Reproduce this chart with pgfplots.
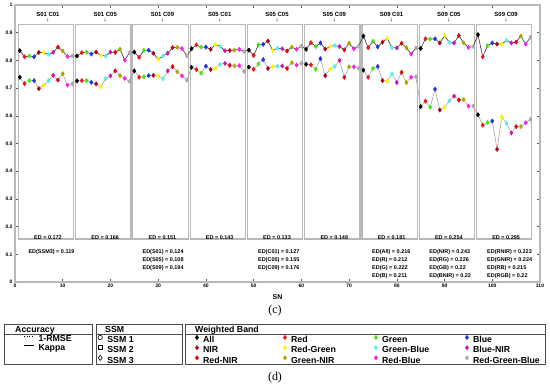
\documentclass[border=0pt]{standalone}
\usepackage{pgfplots}
\pgfplotsset{compat=1.18}
\usepackage{pgfplotstable}
\usepackage{fontspec}
\setmainfont{Liberation Sans}
\newfontfamily\serifc{Liberation Serif}

\definecolor{cAll}{RGB}{0,0,0}
\definecolor{cR}{RGB}{240,20,20}
\definecolor{cG}{RGB}{70,230,20}
\definecolor{cB}{RGB}{30,50,235}
\definecolor{cNIR}{RGB}{165,10,20}
\definecolor{cRG}{RGB}{250,245,0}
\definecolor{cGB}{RGB}{80,240,250}
\definecolor{cBNIR}{RGB}{205,20,180}
\definecolor{cRNIR}{RGB}{230,0,10}
\definecolor{cGNIR}{RGB}{175,165,0}
\definecolor{cRB}{RGB}{250,30,240}
\definecolor{cRGB}{RGB}{170,170,170}

\pgfplotstableread{
sn up lo c
1 0.835 0.739 a
2 0.813 0.716 b
3 0.816 0.727 c
4 0.813 0.727 d
5 0.829 0.698 e
6 0.828 0.711 f
7 0.822 0.726 g
8 0.829 0.746 h
9 0.848 0.729 i
10 0.834 0.752 j
11 0.814 0.711 k
12 0.816 0.715 l
13 0.816 0.726 a
14 0.828 0.727 b
15 0.830 0.727 c
16 0.823 0.721 d
17 0.830 0.715 e
18 0.818 0.705 f
19 0.816 0.734 g
20 0.830 0.744 h
21 0.829 0.762 i
22 0.840 0.745 j
23 0.801 0.735 k
24 0.828 0.724 l
25 0.830 0.762 a
26 0.811 0.739 b
27 0.836 0.741 c
28 0.837 0.745 d
29 0.826 0.746 e
30 0.804 0.744 f
31 0.816 0.734 g
32 0.826 0.762 h
33 0.846 0.777 i
34 0.847 0.759 j
35 0.843 0.744 k
36 0.816 0.729 l
37 0.842 0.775 a
38 0.856 0.767 b
39 0.848 0.754 c
40 0.848 0.779 d
41 0.840 0.767 e
42 0.857 0.771 f
43 0.851 0.786 g
44 0.835 0.789 h
45 0.836 0.782 i
46 0.837 0.780 j
47 0.840 0.781 k
48 0.832 0.760 l
49 0.837 0.776 a
50 0.818 0.768 b
51 0.856 0.787 c
52 0.858 0.803 d
53 0.870 0.771 e
54 0.836 0.777 f
55 0.844 0.779 g
56 0.842 0.780 h
57 0.834 0.771 i
58 0.848 0.792 j
59 0.840 0.783 k
60 0.852 0.790 l
61 0.840 0.786 a
62 0.864 0.784 b
63 0.850 0.768 c
64 0.863 0.806 d
65 0.841 0.745 e
66 0.850 0.768 f
67 0.854 0.778 g
68 0.850 0.800 h
69 0.838 0.739 i
70 0.862 0.777 j
71 0.842 0.777 k
72 0.852 0.772 l
73 0.888 0.765 a
74 0.846 0.739 b
75 0.869 0.771 c
76 0.849 0.778 d
77 0.866 0.727 e
78 0.879 0.725 f
79 0.846 0.751 g
80 0.845 0.720 h
81 0.862 0.757 i
82 0.846 0.720 j
83 0.823 0.739 k
84 0.845 0.741 l
85 0.843 0.633 a
86 0.878 0.653 b
87 0.877 0.631 c
88 0.878 0.696 d
89 0.863 0.621 e
90 0.889 0.631 f
91 0.865 0.654 g
92 0.863 0.671 h
93 0.890 0.657 i
94 0.863 0.659 j
95 0.847 0.635 k
96 0.850 0.635 l
97 0.893 0.604 a
98 0.813 0.566 b
99 0.853 0.576 c
100 0.863 0.581 d
101 0.859 0.479 e
102 0.859 0.596 f
103 0.872 0.573 g
104 0.863 0.538 h
105 0.866 0.561 i
106 0.888 0.561 j
107 0.859 0.575 k
108 0.884 0.588 l
}\data

\newcommand\edf{\bfseries\fontsize{5.5}{6}\selectfont}
\newcommand\lgf{\bfseries\fontsize{8.8}{9}\selectfont}

\pgfplotsset{
  bandclasses/.style={scatter/classes={
    a={mark=diamond*,draw=cAll,fill=cAll},
    b={mark=diamond*,draw=cR,fill=cR},
    c={mark=diamond*,draw=cG,fill=cG},
    d={mark=diamond*,draw=cB,fill=cB},
    e={mark=diamond*,draw=cNIR,fill=cNIR},
    f={mark=diamond*,draw=cRG,fill=cRG},
    g={mark=diamond*,draw=cGB,fill=cGB},
    h={mark=diamond*,draw=cBNIR,fill=cBNIR},
    i={mark=diamond*,draw=cRNIR,fill=cRNIR},
    j={mark=diamond*,draw=cGNIR,fill=cGNIR},
    k={mark=diamond*,draw=cRB,fill=cRB},
    l={mark=diamond*,draw=cRGB,fill=cRGB}}},
  legcol/.style={hide axis, scale only axis, width=1bp, height=1bp,
    anchor=south west, xmin=0, xmax=1, ymin=0, ymax=1,
    legend cell align=left,
    legend style={at={(0,0)}, anchor=north west, draw=none, fill=none,
      inner sep=0pt, outer sep=0pt, row sep=0.9bp, font=\lgf,
      nodes={inner sep=0pt, text height=6.3bp, text depth=1.8bp},
      /tikz/every odd column/.append style={column sep=#1}}},
  markimg/.style={legend image code/.code={\draw[##1] plot coordinates {(0bp,3bp)};}},
}

\begin{document}
\begin{tikzpicture}
\useasboundingbox (-15bp,-107bp) rectangle (535bp,282bp);
\begin{axis}[
  name=main, at={(0,0)}, anchor=south west,
  scale only axis, width=525bp, height=277bp,
  xmin=0, xmax=110, ymin=0, ymax=1,
  xtick={0,10,20,30,40,50,60,70,80,90,100,110},
  ytick={0,0.1,0.2,0.3,0.4,0.5,0.6,0.7,0.8,0.9,1},
  tick align=inside, major tick length=3bp,
  tick style={gray!70!black, line width=0.5bp},
  axis line style={gray!55, line width=1.2bp},
  ticklabel style={font=\bfseries\fontsize{5}{6}\selectfont},
  /pgf/number format/assume math mode=true,
  yticklabel style={/pgf/number format/fixed, /pgf/number format/precision=1, xshift=1bp},
  xticklabel style={yshift=1bp},
  xlabel={SN}, xlabel style={font=\bfseries\fontsize{7}{8}\selectfont, at={(axis description cs:0.5,0)}, anchor=center, yshift=-15bp},
  clip=false,
]
\pgfplotsinvokeforeach{0,...,8}{
  \draw[gray!55, line width=1.2bp, fill=white] (axis cs:12*#1+0.7,0.155) rectangle (axis cs:12*#1+12.3,0.93);
}
\addplot[black!80, line width=0.6bp, no marks] table[x=sn,y=up]{\data};
\addplot[gray!70, line width=0.6bp, no marks] table[x=sn,y=lo]{\data};
\addplot[scatter, only marks, mark=diamond*, mark size=2.2bp, scatter src=explicit symbolic, bandclasses] table[x=sn,y=up,meta=c]{\data};
\addplot[scatter, only marks, mark=diamond*, mark size=2.2bp, scatter src=explicit symbolic, bandclasses] table[x=sn,y=lo,meta=c]{\data};

\node[font=\bfseries\fontsize{6}{7}\selectfont] at (axis cs:6.9,0.965) {S01 C01};
\node[font=\bfseries\fontsize{6}{7}\selectfont] at (axis cs:18.9,0.965) {S01 C05};
\node[font=\bfseries\fontsize{6}{7}\selectfont] at (axis cs:30.9,0.965) {S01 C09};
\node[font=\bfseries\fontsize{6}{7}\selectfont] at (axis cs:42.9,0.965) {S05 C01};
\node[font=\bfseries\fontsize{6}{7}\selectfont] at (axis cs:54.9,0.965) {S05 C05};
\node[font=\bfseries\fontsize{6}{7}\selectfont] at (axis cs:66.9,0.965) {S05 C09};
\node[font=\bfseries\fontsize{6}{7}\selectfont] at (axis cs:78.9,0.965) {S09 C01};
\node[font=\bfseries\fontsize{6}{7}\selectfont] at (axis cs:90.9,0.965) {S09 C05};
\node[font=\bfseries\fontsize{6}{7}\selectfont] at (axis cs:102.9,0.965) {S09 C09};
\pgfplotsinvokeforeach{6.9,18.9,30.9,42.9,54.9,66.9,78.9,90.9,102.9}{
  \node[font=\fontsize{6}{7}\selectfont] at (axis cs:#1,0.946) {↓};
}
\node[font=\edf] at (axis cs:6.9,0.162) {ED = 0.172};
\node[font=\edf] at (axis cs:18.9,0.162) {ED = 0.166};
\node[font=\edf] at (axis cs:30.9,0.162) {ED = 0.151};
\node[font=\edf] at (axis cs:42.9,0.162) {ED = 0.143};
\node[font=\edf] at (axis cs:54.9,0.162) {ED = 0.133};
\node[font=\edf] at (axis cs:66.9,0.162) {ED = 0.148};
\node[font=\edf] at (axis cs:78.9,0.162) {ED = 0.181};
\node[font=\edf] at (axis cs:90.9,0.162) {ED = 0.254};
\node[font=\edf] at (axis cs:102.9,0.162) {ED = 0.295};

\node[font=\edf, anchor=west] at (axis cs:2.1,0.108) {ED(SSM3) = 0.119};
\node[font=\edf, anchor=west] at (axis cs:26,0.108) {ED(S01) = 0.124};
\node[font=\edf, anchor=west] at (axis cs:26,0.079) {ED(S05) = 0.108};
\node[font=\edf, anchor=west] at (axis cs:26,0.051) {ED(S09) = 0.194};
\node[font=\edf, anchor=west] at (axis cs:50.2,0.108) {ED(C01) = 0.127};
\node[font=\edf, anchor=west] at (axis cs:50.2,0.079) {ED(C05) = 0.155};
\node[font=\edf, anchor=west] at (axis cs:50.2,0.051) {ED(C09) = 0.176};
\node[font=\edf, anchor=west] at (axis cs:74.1,0.108) {ED(All) = 0.216};
\node[font=\edf, anchor=west] at (axis cs:74.1,0.079) {ED(R) = 0.212};
\node[font=\edf, anchor=west] at (axis cs:74.1,0.051) {ED(G) = 0.222};
\node[font=\edf, anchor=west] at (axis cs:74.1,0.022) {ED(B) = 0.211};
\node[font=\edf, anchor=west] at (axis cs:86.1,0.108) {ED(NIR) = 0.243};
\node[font=\edf, anchor=west] at (axis cs:86.1,0.079) {ED(RG) = 0.226};
\node[font=\edf, anchor=west] at (axis cs:86.1,0.051) {ED(GB) = 0.22};
\node[font=\edf, anchor=west] at (axis cs:86.1,0.022) {ED(BNIR) = 0.22};
\node[font=\edf, anchor=west] at (axis cs:98.2,0.108) {ED(RNIR) = 0.223};
\node[font=\edf, anchor=west] at (axis cs:98.2,0.079) {ED(GNIR) = 0.224};
\node[font=\edf, anchor=west] at (axis cs:98.2,0.051) {ED(RB) = 0.215};
\node[font=\edf, anchor=west] at (axis cs:98.2,0.022) {ED(RGB) = 0.22};
\end{axis}

\node[font=\serifc\fontsize{12}{13}\selectfont] at (260bp,-29bp) {(c)};
\node[font=\serifc\fontsize{12}{13}\selectfont] at (260bp,-96bp) {(d)};

% legend frames
\draw[gray!60!black, line width=1bp] (-10bp,-42bp) rectangle (77bp,-82bp);
\draw[gray!60!black, line width=1bp] (-10bp,-52.5bp) -- (77bp,-52.5bp);
\draw[gray!60!black, line width=1bp] (81bp,-42bp) rectangle (167bp,-82bp);
\draw[gray!60!black, line width=1bp] (81bp,-52.5bp) -- (167bp,-52.5bp);
\draw[gray!60!black, line width=1bp] (170bp,-42bp) rectangle (530bp,-82bp);
\draw[gray!60!black, line width=1bp] (170bp,-52.5bp) -- (530bp,-52.5bp);
\node[font=\lgf, anchor=base west, inner sep=0pt] at (0bp,-50bp) {Accuracy};
\node[font=\lgf, anchor=base west, inner sep=0pt] at (90bp,-50bp) {SSM};
\node[font=\lgf, anchor=base west, inner sep=0pt] at (180bp,-50bp) {Weighted Band};

\begin{axis}[legcol=4bp, at={(8bp,-53.3bp)},
  legend image code/.code={\draw[#1] (0bp,3bp) -- (10bp,3bp);}]
\addlegendimage{black, line width=0.8bp, dotted}
\addlegendentry{1-RMSE}
\addlegendimage{black, line width=1.5bp}
\addlegendentry{Kappa}
\end{axis}

\begin{axis}[legcol=5bp, at={(83bp,-53.3bp)}, markimg]
\addlegendimage{only marks, mark=o, mark size=2.2bp, black, line width=0.6bp}
\addlegendentry{SSM 1}
\addlegendimage{only marks, mark=square, mark size=1.8bp, black, line width=0.5bp}
\addlegendentry{SSM 2}
\addlegendimage{only marks, mark=diamond, mark size=2.6bp, black, line width=0.6bp}
\addlegendentry{SSM 3}
\end{axis}

\begin{axis}[legcol=4.5bp, at={(180.3bp,-53.3bp)}, markimg]
\addlegendimage{only marks, mark=diamond*, mark size=2.2bp, cAll}
\addlegendentry{All}
\addlegendimage{only marks, mark=diamond*, mark size=2.2bp, cNIR}
\addlegendentry{NIR}
\addlegendimage{only marks, mark=diamond*, mark size=2.2bp, cRNIR}
\addlegendentry{Red-NIR}
\end{axis}
\begin{axis}[legcol=4.5bp, at={(268.3bp,-53.3bp)}, markimg]
\addlegendimage{only marks, mark=diamond*, mark size=2.2bp, cR}
\addlegendentry{Red}
\addlegendimage{only marks, mark=diamond*, mark size=2.2bp, cRG}
\addlegendentry{Red-Green}
\addlegendimage{only marks, mark=diamond*, mark size=2.2bp, cGNIR}
\addlegendentry{Green-NIR}
\end{axis}
\begin{axis}[legcol=4.5bp, at={(359.3bp,-53.3bp)}, markimg]
\addlegendimage{only marks, mark=diamond*, mark size=2.2bp, cG}
\addlegendentry{Green}
\addlegendimage{only marks, mark=diamond*, mark size=2.2bp, cGB}
\addlegendentry{Green-Blue}
\addlegendimage{only marks, mark=diamond*, mark size=2.2bp, cRB}
\addlegendentry{Red-Blue}
\end{axis}
\begin{axis}[legcol=4.5bp, at={(450.3bp,-53.3bp)}, markimg]
\addlegendimage{only marks, mark=diamond*, mark size=2.2bp, cB}
\addlegendentry{Blue}
\addlegendimage{only marks, mark=diamond*, mark size=2.2bp, cBNIR}
\addlegendentry{Blue-NIR}
\addlegendimage{only marks, mark=diamond*, mark size=2.2bp, cRGB}
\addlegendentry{Red-Green-Blue}
\end{axis}
\end{tikzpicture}
\end{document}
